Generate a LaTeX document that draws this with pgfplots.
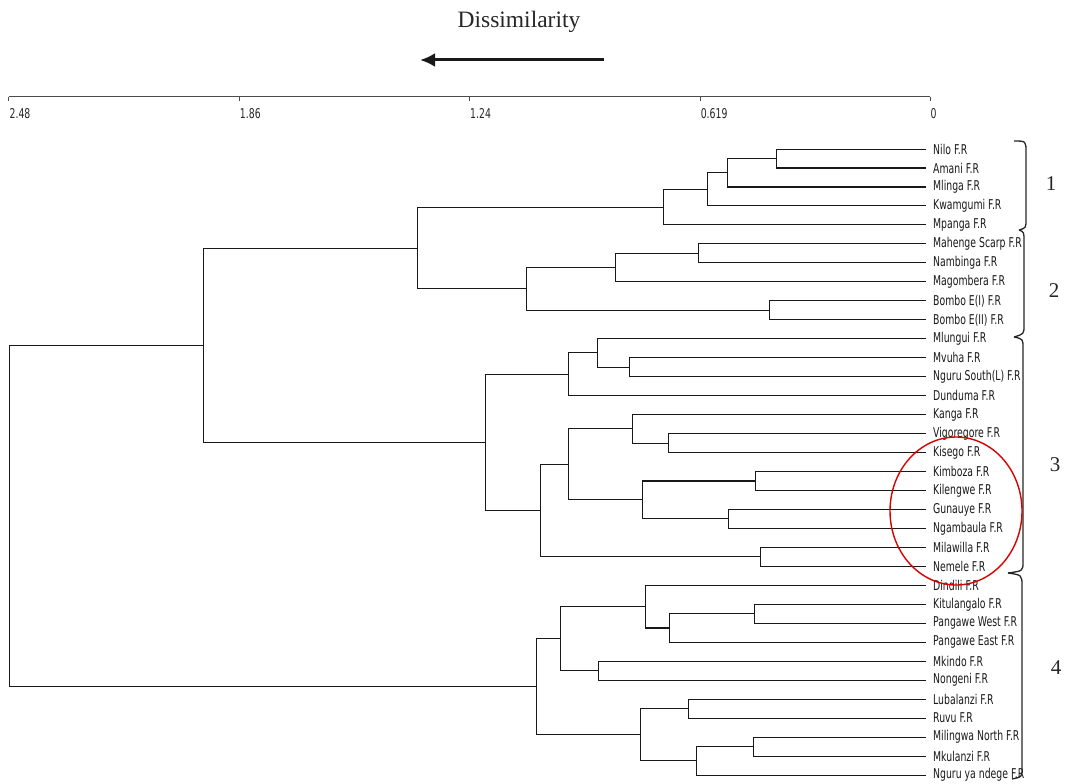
\documentclass[border=0pt]{standalone}
\usepackage{pgfplots}
\pgfplotsset{compat=1.18}
\usepackage{fontspec}
\setmainfont{Liberation Serif}
\newfontfamily\labfont[FakeStretch=0.69]{DejaVu Sans}
\usetikzlibrary{arrows.meta}

\begin{document}
\begin{tikzpicture}
\path[use as bounding box] (0pt,0pt) rectangle (1065pt,-784pt);

\begin{axis}[
  at={(469.5pt,-440.5pt)}, anchor=center,
  scale only axis, width=921pt, height=688pt,
  x dir=reverse,
  xmin=0, xmax=2.48, ymin=0.5, ymax=36.77,
  clip=false,
  axis x line*=top,
  axis y line*=right,
  y axis line style={draw=none},
  x axis line style={black!70, line width=1.2pt},
  tick align=inside,
  xtick={2.48,1.86,1.24,0.619,0},
  xticklabels={2.48,1.86,1.24,0.619,0},
  xtick style={black!70, line width=1pt},
  major tick length=4.5pt,
  xticklabel style={anchor=north west, inner sep=0pt, xshift=0.5pt, yshift=-12pt,
    font=\labfont\fontsize{13.5}{15}\selectfont, text=black!85},
  ytick={1,...,34},
  ytick style={draw=none},
  yticklabel pos=right,
  yticklabel style={anchor=west, inner sep=0pt, xshift=3pt,
    font=\labfont\fontsize{13.5}{15}\selectfont, text=black!90},
  yticklabels={Nguru ya ndege F.R, Mkulanzi F.R, Milingwa North F.R, Ruvu F.R,
    Lubalanzi F.R, Nongeni F.R, Mkindo F.R, Pangawe East F.R, Pangawe West F.R,
    Kitulangalo F.R, Dindili F.R, Nemele F.R, Milawilla F.R, Ngambaula F.R,
    Gunauye F.R, Kilengwe F.R, Kimboza F.R, Kisego F.R, Vigoregore F.R, Kanga F.R,
    Dunduma F.R, Nguru South(L) F.R, Mvuha F.R, Mlungui F.R, Bombo E(II) F.R,
    Bombo E(I) F.R, Magombera F.R, Nambinga F.R, Mahenge Scarp F.R, Mpanga F.R,
    Kwamgumi F.R, Mlinga F.R, Amani F.R, Nilo F.R},
  link/.style={black!90, line width=1.05pt, mark=none},
]
% each merge: (child height, child y) -> (merge height) -> (other child)
% cluster 1
\addplot[link] coordinates {(0.01,34) (0.413,34) (0.413,33) (0.01,33)};
\addplot[link] coordinates {(0.413,33.5) (0.545,33.5) (0.545,32) (0.01,32)};
\addplot[link] coordinates {(0.545,32.75) (0.599,32.75) (0.599,31) (0.01,31)};
\addplot[link] coordinates {(0.599,31.875) (0.718,31.875) (0.718,30) (0.01,30)};
% cluster 2
\addplot[link] coordinates {(0.01,29) (0.624,29) (0.624,28) (0.01,28)};
\addplot[link] coordinates {(0.624,28.5) (0.846,28.5) (0.846,27) (0.01,27)};
\addplot[link] coordinates {(0.01,26) (0.431,26) (0.431,25) (0.01,25)};
\addplot[link] coordinates {(0.846,27.75) (1.087,27.75) (1.087,25.5) (0.431,25.5)};
% clusters 1 + 2
\addplot[link] coordinates {(0.718,30.9375) (1.380,30.9375) (1.380,26.625) (1.087,26.625)};
% cluster 3
\addplot[link] coordinates {(0.01,23) (0.809,23) (0.809,22) (0.01,22)};
\addplot[link] coordinates {(0.01,24) (0.895,24) (0.895,22.5) (0.809,22.5)};
\addplot[link] coordinates {(0.895,23.25) (0.973,23.25) (0.973,21) (0.01,21)};
\addplot[link] coordinates {(0.01,19) (0.703,19) (0.703,18) (0.01,18)};
\addplot[link] coordinates {(0.01,20) (0.801,20) (0.801,18.5) (0.703,18.5)};
\addplot[link] coordinates {(0.01,17) (0.469,17) (0.469,16) (0.01,16)};
\addplot[link] coordinates {(0.01,15) (0.543,15) (0.543,14) (0.01,14)};
\addplot[link] coordinates {(0.469,16.5) (0.774,16.5) (0.774,14.5) (0.543,14.5)};
\addplot[link] coordinates {(0.801,19.25) (0.973,19.25) (0.973,15.5) (0.774,15.5)};
\addplot[link] coordinates {(0.01,13) (0.456,13) (0.456,12) (0.01,12)};
\addplot[link] coordinates {(0.973,17.375) (1.050,17.375) (1.050,12.5) (0.456,12.5)};
\addplot[link] coordinates {(0.973,22.125) (1.197,22.125) (1.197,14.9375) (1.050,14.9375)};
% clusters 1 + 2 + 3
\addplot[link] coordinates {(1.380,28.78125) (1.956,28.78125) (1.956,18.53125) (1.197,18.53125)};
% cluster 4
\addplot[link] coordinates {(0.01,10) (0.473,10) (0.473,9) (0.01,9)};
\addplot[link] coordinates {(0.473,9.5) (0.701,9.5) (0.701,8) (0.01,8)};
\addplot[link] coordinates {(0.01,11) (0.767,11) (0.767,8.75) (0.701,8.75)};
\addplot[link] coordinates {(0.01,7) (0.893,7) (0.893,6) (0.01,6)};
\addplot[link] coordinates {(0.767,9.875) (0.995,9.875) (0.995,6.5) (0.893,6.5)};
\addplot[link] coordinates {(0.01,5) (0.651,5) (0.651,4) (0.01,4)};
\addplot[link] coordinates {(0.01,3) (0.474,3) (0.474,2) (0.01,2)};
\addplot[link] coordinates {(0.474,2.5) (0.629,2.5) (0.629,1) (0.01,1)};
\addplot[link] coordinates {(0.651,4.5) (0.779,4.5) (0.779,1.75) (0.629,1.75)};
\addplot[link] coordinates {(0.995,8.1875) (1.060,8.1875) (1.060,3.125) (0.779,3.125)};
% root
\addplot[link] coordinates {(1.956,23.65625) (2.478,23.65625) (2.478,5.65625) (1.060,5.65625)};
\end{axis}

\begin{scope}[x=1pt, y=-1pt]
% title and direction arrow
\node[anchor=base, font=\fontsize{23.5}{26}\selectfont, text=black!85] at (519,28) {Dissimilarity};
\draw[black!90, line width=3pt, -{Latex[length=15pt,width=14pt]}] (604,60) -- (420,60);

% group brackets
\begin{scope}[black!85, line width=1.3pt]
\draw (1014,141) .. controls (1026,141) .. (1026,152) -- (1026,219) .. controls (1026,228) .. (1019,230);
\draw (1019,230) .. controls (1024,232) .. (1024,241) -- (1024,325) .. controls (1024,334) .. (1014,337);
\draw (1014,337) .. controls (1023,339) .. (1023,348) -- (1023,562) .. controls (1023,571) .. (1008,573);
\draw (1008,573) .. controls (1022,575) .. (1022,586) -- (1022,768) .. controls (1022,777) .. (1012,779);
\end{scope}
\begin{scope}[font=\fontsize{21}{24}\selectfont, text=black!85]
\node at (1051,184) {1};
\node at (1054,291) {2};
\node at (1055,465) {3};
\node at (1056,668) {4};
\end{scope}

% highlighted group
\draw[red!85!black, line width=1.4pt] (956,511) ellipse [x radius=66, y radius=74];
\end{scope}
\end{tikzpicture}
\end{document}
